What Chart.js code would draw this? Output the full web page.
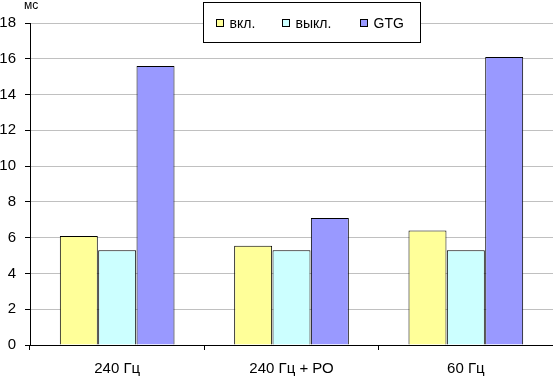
<!DOCTYPE html>
<html>
<head>
<meta charset="utf-8">
<script src="https://cdn.jsdelivr.net/npm/chart.js@4"></script>
<style>
  body { margin: 0; background: #fff; }
  #wrap { width: 553px; height: 377px; }
</style>
</head>
<body>
<div id="wrap"><canvas id="myChart"></canvas></div>
<script>
var categories = ['240 Гц', '240 Гц + РО', '60 Гц'];
var seriesNames = ['вкл.', 'выкл.', 'GTG'];
var onValues = [6.1, 5.55, 6.4];
var offValues = [5.3, 5.3, 5.3];
var gtgValues = [15.6, 7.1, 16.1];
var colors = ['#FFFF99', '#CCFFFF', '#9999FF'];
var unitLabel = 'мс';

Chart.defaults.font.family = '"Liberation Sans", Arial, sans-serif';
Chart.defaults.font.size = 15;
Chart.defaults.color = '#000';

// legend box drawn over the plot, like the original
var boxLegend = {
    id: 'boxLegend',
    afterDraw: function(chart) {
        var c = chart.ctx;
        c.save();
        c.fillStyle = '#fff';
        c.fillRect(203.5, 2.5, 217, 40);
        c.strokeStyle = '#000';
        c.lineWidth = 1;
        c.strokeRect(203.5, 2.5, 217, 40);
        var xs = [216.5, 282.5, 360.5];
        c.font = '14px "Liberation Sans", Arial, sans-serif';
        c.textBaseline = 'alphabetic';
        chart.data.datasets.forEach(function(ds, i) {
            c.fillStyle = ds.backgroundColor;
            c.fillRect(xs[i], 19.5, 7, 7);
            c.strokeRect(xs[i], 19.5, 7, 7);
            c.fillStyle = '#000';
            c.fillText(ds.label, xs[i] + 13, 27.5);
        });
        c.font = '12px "Liberation Sans", Arial, sans-serif';
        c.fillText(unitLabel, 24, 9);
        c.restore();
    }
};

var ctx = document.getElementById('myChart').getContext('2d');
var myChart = new Chart(ctx, {
    type: 'bar',
    data: {
        labels: categories,
        datasets: [{
            label: seriesNames[0],
            data: onValues,
            backgroundColor: colors[0],
            borderColor: '#000',
            borderWidth: 1},
        {
            label: seriesNames[1],
            data: offValues,
            backgroundColor: colors[1],
            borderColor: '#000',
            borderWidth: 1},
        {
            label: seriesNames[2],
            data: gtgValues,
            backgroundColor: colors[2],
            borderColor: '#000',
            borderWidth: 1}
        ]
    },
    options: {
        responsive: true,
        maintainAspectRatio: false,
        animation: false,
        layout: { padding: { top: 23, right: 0, left: 0, bottom: 0 } },
        datasets: {
            bar: { categoryPercentage: 0.66, barPercentage: 0.99 }
        },
        plugins: {
            legend: { display: false },
            tooltip: { enabled: false }
        },
        scales: {
            x: {
                afterFit: function(axis) { axis.height = 32; },
                grid: {
                    offset: true,
                    drawOnChartArea: false,
                    tickLength: 5,
                    tickColor: '#000'
                },
                border: { color: '#000' },
                ticks: { padding: 10 }
            },
            y: {
                min: 0,
                max: 18,
                afterFit: function(axis) { axis.width = 30; },
                ticks: { stepSize: 2, padding: 9 },
                grid: {
                    color: '#c0c0c0',
                    tickColor: '#000',
                    tickLength: 5
                },
                border: { color: '#000' }
            }
        }
    },
    plugins: [boxLegend]
});
</script>
</body>
</html>
